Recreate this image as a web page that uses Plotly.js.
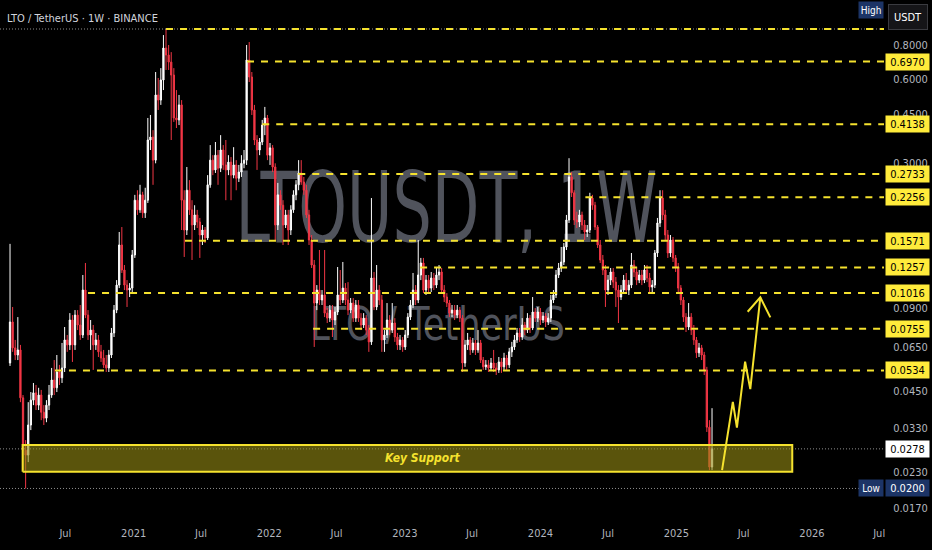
<!DOCTYPE html>
<html>
<head>
<meta charset="utf-8">
<script src="https://cdn.plot.ly/plotly-3.0.1.min.js"></script>
<style>
  html, body { margin: 0; padding: 0; background: #000; }
  #plot { width: 932px; height: 550px; }
</style>
</head>
<body>
<div id="plot"></div>
<script>
// LTO / TetherUS weekly candles
var firstWeek = "2020-02-03";
var firstOpen = 0.0568;

var closes = [
  0.0799,0.0644,0.0607,0.0633,0.0425,0.0275,0.0264,0.0339,0.0417,0.0443,
  0.0400,0.0435,0.0377,0.0359,0.0400,0.0435,0.0493,0.0462,0.0527,0.0502,
  0.0545,0.0688,0.0660,0.0812,0.0660,0.0846,0.0779,0.0717,0.1042,0.0846,
  0.0717,0.0747,0.0660,0.0688,0.0623,0.0592,0.0559,0.0545,0.0607,0.0729,
  0.0882,0.1086,0.1516,0.1231,0.1086,0.1042,0.1059,0.1395,0.220,0.203,
  0.230,0.198,0.220,0.363,0.372,0.307,0.528,0.506,0.598,0.780,
  0.736,0.694,0.623,0.436,0.429,0.486,0.220,0.1717,0.239,0.203,
  0.1790,0.1946,0.1835,0.1647,0.1717,0.1607,0.250,0.307,0.283,0.320,
  0.287,0.334,0.295,0.283,0.302,0.271,0.295,0.264,0.278,0.299,
  0.307,0.706,0.613,0.466,0.363,0.334,0.357,0.411,0.436,0.320,
  0.340,0.290,0.1790,0.230,0.211,0.1790,0.1946,0.1717,0.203,0.230,
  0.250,0.276,0.256,0.239,0.1946,0.1580,0.1283,0.0935,0.1042,0.0959,
  0.1000,0.0860,0.0825,0.0882,0.0812,0.0868,0.1000,0.0959,0.1059,0.0959,
  0.0882,0.0935,0.0825,0.0920,0.0825,0.0779,0.0825,0.0747,0.0677,0.1152,
  0.0905,0.1042,0.0959,0.0688,0.0717,0.0812,0.0747,0.0792,0.0705,0.0660,
  0.0688,0.0649,0.0717,0.0832,0.0920,0.1042,0.0959,0.1181,0.1305,0.1042,
  0.1132,0.1059,0.1152,0.1086,0.1181,0.1211,0.1042,0.0983,0.0935,0.0860,
  0.0882,0.0846,0.0882,0.0825,0.0568,0.0660,0.0688,0.0633,0.0671,0.0633,
  0.0671,0.0582,0.0550,0.0559,0.0545,0.0568,0.0545,0.0536,0.0573,0.0550,
  0.0592,0.0559,0.0623,0.0649,0.0688,0.0729,0.0705,0.0779,0.0747,0.0825,
  0.0760,0.0868,0.0825,0.0868,0.0812,0.0839,0.0799,0.0825,0.0959,0.1000,
  0.1181,0.1252,0.1316,0.1491,0.1866,0.267,0.234,0.1866,0.1835,0.1946,
  0.1790,0.1689,0.1717,0.224,0.211,0.1760,0.1516,0.1338,0.1231,0.1042,
  0.1132,0.1211,0.1113,0.1042,0.0983,0.1042,0.1132,0.1042,0.1086,0.1283,
  0.1211,0.1132,0.1181,0.1132,0.1231,0.1152,0.1068,0.1086,0.1418,0.1820,
  0.224,0.1946,0.1647,0.1418,0.1580,0.1361,0.1262,0.1059,0.0959,0.0832,
  0.0766,0.0832,0.0747,0.0688,0.0618,0.0644,0.0607,0.0536,0.0333,0.0239,
  0.0278
];

var highs = [
  0.153,0.0905,0.0688,0.0832,0.0660,0.0435,0.0299,0.0410,0.0446,0.0481,
  0.0473,0.0462,0.0454,0.0400,0.0417,0.0473,0.0545,0.0582,0.0607,0.0559,
  0.0671,0.0766,0.0717,0.0860,0.0846,0.0882,0.0882,0.0920,0.1181,0.1305,
  0.0882,0.0812,0.0779,0.0729,0.0717,0.0660,0.0633,0.0607,0.0633,0.0760,
  0.0920,0.1132,0.1689,0.1760,0.1283,0.1132,0.1104,0.1454,0.230,0.239,
  0.250,0.236,0.244,0.436,0.447,0.394,0.639,0.608,0.660,0.869,
  0.914,0.800,0.754,0.660,0.550,0.528,0.506,0.239,0.290,0.260,
  0.220,0.211,0.203,0.1898,0.1790,0.1760,0.271,0.348,0.320,0.357,
  0.334,0.378,0.348,0.363,0.320,0.315,0.342,0.307,0.295,0.320,
  0.334,0.800,0.820,0.639,0.486,0.378,0.369,0.429,0.478,0.447,
  0.354,0.348,0.299,0.254,0.239,0.220,0.203,0.203,0.211,0.239,
  0.260,0.307,0.307,0.267,0.250,0.203,0.1647,0.1338,0.1086,0.1454,
  0.1042,0.1454,0.0897,0.0920,0.0920,0.0905,0.1262,0.1231,0.1316,0.1104,
  0.1113,0.0975,0.0975,0.0959,0.0959,0.0860,0.0860,0.0846,0.0779,0.224,
  0.1211,0.1283,0.1086,0.1000,0.0747,0.0935,0.0846,0.0935,0.0825,0.0729,
  0.0717,0.0705,0.0747,0.0860,0.0959,0.1201,0.1086,0.1580,0.1361,0.1361,
  0.1181,0.1181,0.1211,0.1201,0.1262,0.1283,0.1252,0.1086,0.1016,0.0959,
  0.0920,0.0920,0.0920,0.0905,0.0846,0.0688,0.0729,0.0705,0.0699,0.0688,
  0.0747,0.0688,0.0597,0.0582,0.0582,0.0592,0.0633,0.0568,0.0597,0.0592,
  0.0618,0.0607,0.0644,0.0677,0.0717,0.0760,0.0760,0.0825,0.0799,0.0860,
  0.0846,0.0983,0.0897,0.0905,0.0897,0.0868,0.0860,0.0860,0.1000,0.1042,
  0.1231,0.1305,0.1491,0.1541,0.1946,0.312,0.278,0.239,0.200,0.203,
  0.200,0.1866,0.1790,0.234,0.230,0.217,0.1790,0.1580,0.1395,0.1283,
  0.1181,0.1252,0.1252,0.1161,0.1086,0.1086,0.1181,0.1201,0.1132,0.1418,
  0.1338,0.1262,0.1231,0.1231,0.1283,0.1283,0.1201,0.1132,0.1454,0.1898,
  0.239,0.239,0.203,0.1717,0.1647,0.1620,0.1395,0.1305,0.1086,0.0983,
  0.0860,0.0935,0.0860,0.0779,0.0705,0.0671,0.0660,0.0623,0.0550,0.0353,
  0.0390
];

var lows = [
  0.0554,0.0623,0.0582,0.0582,0.0410,0.0233,0.0200,0.0249,0.0325,0.0400,
  0.0384,0.0384,0.0353,0.0339,0.0347,0.0384,0.0425,0.0435,0.0446,0.0473,
  0.0481,0.0527,0.0623,0.0633,0.0573,0.0633,0.0747,0.0688,0.0699,0.0825,
  0.0688,0.0633,0.0536,0.0633,0.0597,0.0573,0.0545,0.0527,0.0527,0.0592,
  0.0705,0.0860,0.1059,0.1201,0.1042,0.0905,0.0983,0.1025,0.1361,0.1946,
  0.198,0.1898,0.1898,0.215,0.334,0.250,0.299,0.466,0.486,0.550,
  0.650,0.650,0.363,0.422,0.401,0.411,0.1717,0.1372,0.1647,0.1946,
  0.1338,0.1717,0.1746,0.1361,0.1516,0.1541,0.1580,0.244,0.271,0.276,
  0.250,0.278,0.283,0.220,0.271,0.220,0.264,0.239,0.256,0.267,
  0.287,0.295,0.588,0.447,0.348,0.283,0.320,0.348,0.378,0.307,
  0.295,0.278,0.1580,0.1717,0.203,0.1516,0.1746,0.1516,0.1647,0.198,
  0.220,0.239,0.250,0.230,0.1898,0.1516,0.1252,0.0649,0.0882,0.0920,
  0.0920,0.0832,0.0792,0.0799,0.0705,0.0779,0.0846,0.0920,0.0935,0.0920,
  0.0846,0.0860,0.0799,0.0799,0.0799,0.0747,0.0760,0.0717,0.0623,0.0660,
  0.0882,0.0882,0.0920,0.0623,0.0623,0.0699,0.0717,0.0729,0.0677,0.0633,
  0.0633,0.0623,0.0633,0.0699,0.0812,0.0897,0.0920,0.0935,0.1132,0.1016,
  0.1000,0.1016,0.1025,0.1042,0.1059,0.1132,0.1016,0.0943,0.0905,0.0832,
  0.0832,0.0812,0.0825,0.0799,0.0527,0.0550,0.0633,0.0607,0.0618,0.0607,
  0.0618,0.0568,0.0536,0.0536,0.0527,0.0536,0.0527,0.0514,0.0523,0.0523,
  0.0536,0.0536,0.0545,0.0597,0.0633,0.0671,0.0677,0.0688,0.0717,0.0729,
  0.0729,0.0747,0.0799,0.0799,0.0779,0.0792,0.0766,0.0779,0.0799,0.0935,
  0.0975,0.1152,0.1211,0.1283,0.1454,0.1820,0.226,0.1790,0.1746,0.1760,
  0.1717,0.1580,0.1620,0.1675,0.203,0.1717,0.1479,0.1305,0.1181,0.0905,
  0.1000,0.1086,0.1059,0.0905,0.0792,0.0959,0.1016,0.1016,0.1000,0.1059,
  0.1161,0.1086,0.1104,0.1086,0.1104,0.1113,0.1025,0.1025,0.1059,0.1372,
  0.1760,0.1866,0.1580,0.1361,0.1372,0.1316,0.1211,0.1025,0.0920,0.0799,
  0.0735,0.0747,0.0717,0.0660,0.0592,0.0597,0.0582,0.0514,0.0320,0.0233,
  0.0233
];

// horizontal levels drawn on the chart and where each one starts
var levels = [0.6970, 0.4138, 0.2733, 0.2256, 0.1571, 0.1257, 0.1016, 0.0755, 0.0534];
var levelFrom = ["2021-11-02", "2021-12-13", "2022-03-20", "2024-05-01", "2021-05-19",
                 "2023-02-11", "2020-08-31", "2022-04-29", "2020-06-03"];
var highFrom = "2021-03-29";

var lastPrice = 0.0278;
var lowPrice = 0.0200;

var supportLow = 0.0230;
var supportHigh = 0.0287;
var supportFrom = "2020-03-08";
var supportTo = "2025-11-09";

// projected path drawn by hand
var pathX = ["2025-05-04", "2025-06-02", "2025-06-13", "2025-07-05", "2025-07-19", "2025-08-15"];
var pathY = [0.0233, 0.0411, 0.0332, 0.0574, 0.0457, 0.0981];
var headX = ["2025-07-12", "2025-08-15", "2025-09-11"];
var headY = [0.0870, 0.0981, 0.0830];

var xStart = "2020-01-07";
var xEnd = "2026-07-14";
var xTicks = ["2020-07-01", "2021-01-01", "2021-07-01", "2022-01-01", "2022-07-01", "2023-01-01",
              "2023-07-01", "2024-01-01", "2024-07-01", "2025-01-01", "2025-07-01", "2026-01-01", "2026-07-01"];
var xTickText = ["Jul", "2021", "Jul", "2022", "Jul", "2023", "Jul", "2024", "Jul", "2025", "Jul", "2026", "Jul"];
var yTicks = [0.8, 0.6, 0.45, 0.3, 0.09, 0.065, 0.045, 0.033, 0.023, 0.017];

var yellow = "#f5e22e";
var font = "'Liberation Sans Narrow', 'DejaVu Sans Condensed', 'Liberation Sans', sans-serif";

var dates = [];
var opens = [];
var t0 = Date.parse(firstWeek + "T00:00:00Z");
for (var i = 0; i < closes.length; i++) {
  dates.push(new Date(t0 + i * 7 * 86400000).toISOString().slice(0, 10));
  opens.push(i == 0 ? firstOpen : closes[i - 1]);
}
var highPrice = Math.max.apply(null, highs);

var lvlX = [], lvlY = [];
for (var i = 0; i < levels.length; i++) {
  lvlX.push(levelFrom[i], xEnd, null);
  lvlY.push(levels[i], levels[i], null);
}
lvlX.push(highFrom, xEnd, null);
lvlY.push(highPrice, highPrice, null);

var data = [
  {type: "scatter", mode: "lines", x: [xStart, xEnd, null, xStart, xEnd, null, xStart, xEnd],
   y: [highPrice, highPrice, null, lastPrice, lastPrice, null, lowPrice, lowPrice],
   line: {color: "rgba(190,190,190,0.75)", width: 1, dash: "1px,2px"}, hoverinfo: "skip"},
  {type: "scatter", mode: "lines", fill: "toself",
   x: [supportFrom, supportTo, supportTo, supportFrom, supportFrom],
   y: [supportLow, supportLow, supportHigh, supportHigh, supportLow],
   fillcolor: "rgba(150,140,20,0.6)", line: {color: yellow, width: 2}, hoverinfo: "skip"},
  {type: "candlestick", x: dates, open: opens, high: highs, low: lows, close: closes,
   increasing: {line: {color: "#ffffff", width: 1}, fillcolor: "#ffffff"},
   decreasing: {line: {color: "#f23645", width: 1}, fillcolor: "#f23645"},
   whiskerwidth: 0, hoverinfo: "skip"},
  {type: "scatter", mode: "lines", x: lvlX, y: lvlY,
   line: {color: yellow, width: 2, dash: "7px,7px"}, hoverinfo: "skip"},
  {type: "scatter", mode: "lines", x: pathX, y: pathY,
   line: {color: yellow, width: 2}, hoverinfo: "skip"},
  {type: "scatter", mode: "lines", x: headX, y: headY,
   line: {color: yellow, width: 2}, hoverinfo: "skip"}
];

function priceTag(v, bg, fg) {
  return {xref: "paper", x: 1, xanchor: "left", xshift: 1, yref: "y", y: Math.log10(v), yanchor: "middle",
    text: v.toFixed(4), showarrow: false, bgcolor: bg, borderpad: 1, width: 41, height: 14,
    font: {family: font, size: 11, color: fg}};
}

var annotations = [
  {xref: "paper", yref: "paper", x: 0.006, y: 0.965, xanchor: "left", yanchor: "middle",
   text: "LTO / TetherUS · 1W · BINANCE", showarrow: false, font: {family: font, size: 11, color: "#d1d4dc"}},
  {xref: "x", yref: "y", x: "2023-02-17", y: Math.log10(Math.sqrt(supportLow * supportHigh)),
   text: "<b><i>Key Support</i></b>", showarrow: false, font: {family: font, size: 12, color: yellow}},
  {xref: "paper", yref: "paper", x: 1, y: 0.98, xanchor: "right", yanchor: "middle", text: "High",
   showarrow: false, bgcolor: "#1c3466", borderpad: 1, width: 22, height: 14,
   font: {family: font, size: 10, color: "#ffffff"}},
  {xref: "paper", yref: "paper", x: 1, y: 0.967, xanchor: "left", xshift: 4, yanchor: "middle", text: "USDT",
   showarrow: false, bgcolor: "#151518", bordercolor: "#3a3b40", borderwidth: 1, borderpad: 3, width: 32, height: 18,
   font: {family: font, size: 11, color: "#ffffff"}},
  {xref: "paper", x: 1, xanchor: "right", yref: "y", y: Math.log10(lowPrice), yanchor: "middle", text: "Low",
   showarrow: false, bgcolor: "#1c3466", borderpad: 1, width: 22, height: 14,
   font: {family: font, size: 10, color: "#ffffff"}},
  priceTag(lowPrice, "#1c3466", "#ffffff"),
  priceTag(lastPrice, "#ffffff", "#000000")
];
for (var i = 0; i < levels.length; i++) annotations.push(priceTag(levels[i], "#ffeb3b", "#000000"));

var layout = {
  width: 932, height: 550,
  margin: {l: 0, r: 48, t: 0, b: 32},
  paper_bgcolor: "#000000", plot_bgcolor: "#000000",
  showlegend: false,
  font: {family: font, color: "#b2b5be", size: 11},
  xaxis: {type: "date", range: [xStart, xEnd], tickmode: "array", tickvals: xTicks, ticktext: xTickText,
    showgrid: false, zeroline: false, showline: false, ticks: "outside", ticklen: 5, tickcolor: "rgba(0,0,0,0)",
    rangeslider: {visible: false}, tickfont: {family: font, size: 11, color: "#b2b5be"}},
  yaxis: {type: "log", side: "right", range: [-1.8057, 0.0657], tickmode: "array", tickvals: yTicks,
    ticktext: yTicks.map(function(v) { return v.toFixed(4); }),
    showgrid: false, zeroline: false, showline: false, ticks: "outside", ticklen: 6, tickcolor: "rgba(0,0,0,0)",
    tickfont: {family: font, size: 11, color: "#b2b5be"}},
  shapes: [
    {type: "rect", xref: "paper", yref: "paper", x0: 0.25, x1: 0.76, y0: 0.53, y1: 0.69, layer: "below",
     line: {width: 0}, label: {text: "LTOUSDT, 1W", textposition: "middle center",
     font: {family: font, size: 84, color: "#50535c"}}},
    {type: "rect", xref: "paper", yref: "paper", x0: 0.33, x1: 0.66, y0: 0.34, y1: 0.42, layer: "below",
     line: {width: 0}, label: {text: "LTO / TetherUS", textposition: "middle center",
     font: {family: font, size: 44, color: "#50535c"}}}
  ],
  annotations: annotations
};

// the watermark font is narrower and taller than what is installed here
var stretch = [[0.82, 1.16], [0.89, 1.05]];
Plotly.newPlot("plot", data, layout, {staticPlot: true, displayModeBar: false}).then(function() {
  var marks = document.querySelectorAll("#plot .shapelayer text");
  for (var k = 0; k < marks.length && k < stretch.length; k++) {
    var b = marks[k].getBBox();
    var cx = b.x + b.width / 2, cy = b.y + b.height / 2;
    var old = marks[k].getAttribute("transform") || "";
    marks[k].setAttribute("transform", "translate(" + cx + "," + cy + ") scale(" + stretch[k][0] + "," +
      stretch[k][1] + ") translate(" + (-cx) + "," + (-cy) + ") " + old);
  }
});
</script>
</body>
</html>
